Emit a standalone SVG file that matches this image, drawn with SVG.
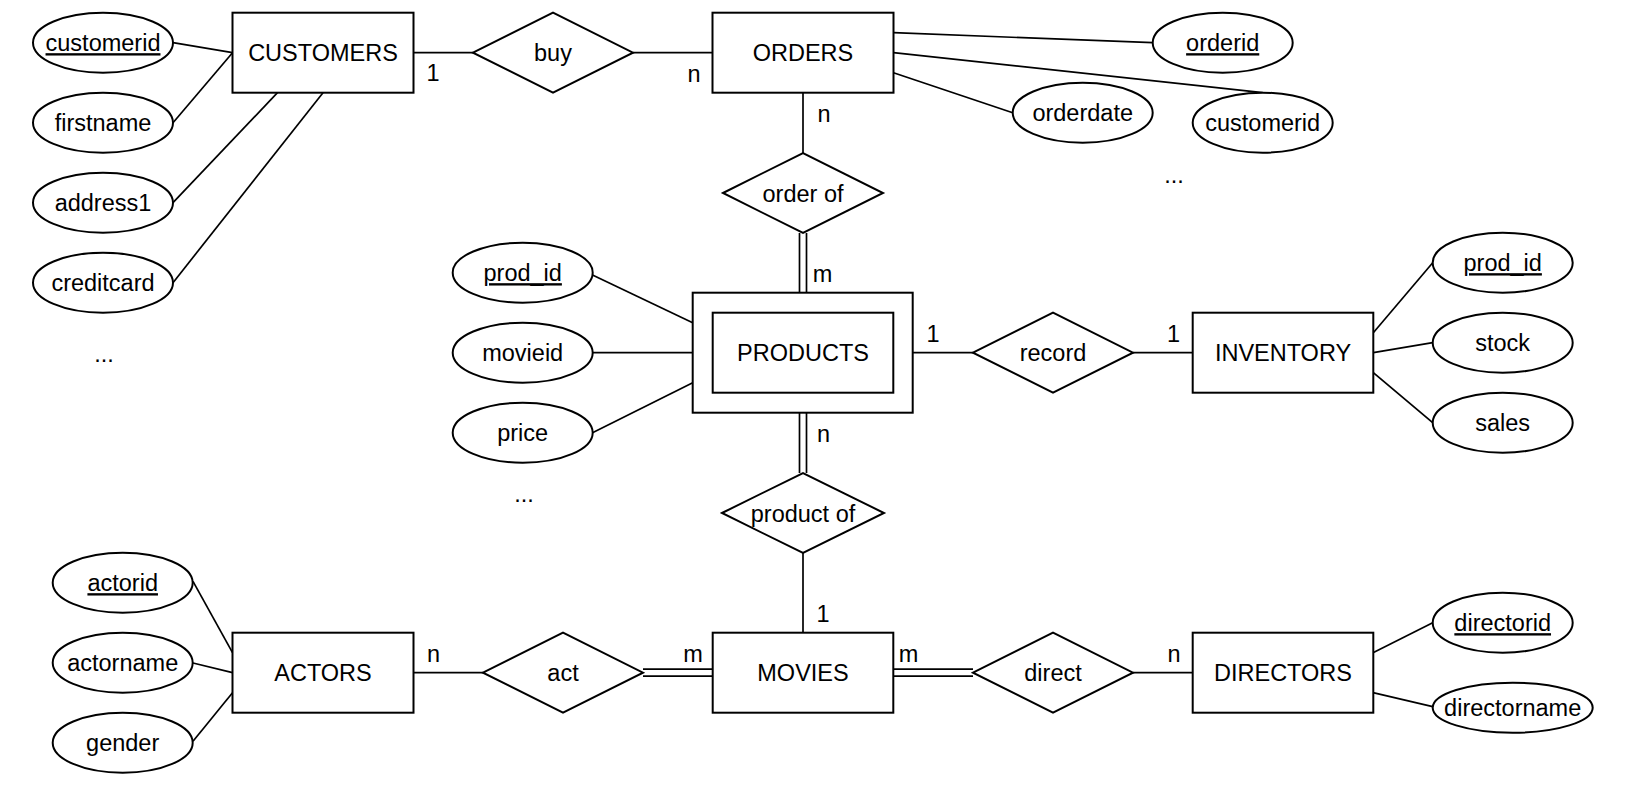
<svg xmlns="http://www.w3.org/2000/svg" width="1628" height="788" viewBox="0 0 1628 788">
<style>
.shape{fill:#fff;stroke:#000;stroke-width:2}
.ln{stroke:#000;stroke-width:1.7;fill:none}
text{font-family:"Liberation Sans",Arial,Helvetica,sans-serif;font-size:23.5px;fill:#000;text-anchor:middle}
.u{text-decoration:underline}
</style>
<rect width="1628" height="788" fill="#fff"/>
<g id="connectors">
<line class="ln" x1="173" y1="42.7" x2="232.5" y2="52.7"/>
<line class="ln" x1="173" y1="122.7" x2="232.5" y2="52.7"/>
<line class="ln" x1="173" y1="202.7" x2="277.5" y2="92.7"/>
<line class="ln" x1="173" y1="282.7" x2="323" y2="92.7"/>
<line class="ln" x1="413.5" y1="52.7" x2="473" y2="52.7"/>
<line class="ln" x1="633" y1="52.7" x2="712.5" y2="52.7"/>
<line class="ln" x1="893.5" y1="32.7" x2="1152.7" y2="42.7"/>
<line class="ln" x1="893.5" y1="52.7" x2="1262.7" y2="92.7"/>
<line class="ln" x1="893.5" y1="72.7" x2="1012.7" y2="112.7"/>
<line class="ln" x1="803" y1="92.7" x2="803" y2="153"/>
<line class="ln" x1="799.5" y1="233" x2="799.5" y2="292.7"/>
<line class="ln" x1="806.5" y1="233" x2="806.5" y2="292.7"/>
<line class="ln" x1="592.5" y1="275" x2="692.7" y2="322.7"/>
<line class="ln" x1="592.7" y1="352.7" x2="692.7" y2="352.7"/>
<line class="ln" x1="592.5" y1="432.7" x2="692.7" y2="382.7"/>
<line class="ln" x1="912.7" y1="352.7" x2="973" y2="352.7"/>
<line class="ln" x1="1133" y1="352.7" x2="1192.7" y2="352.7"/>
<line class="ln" x1="1373.3" y1="332.7" x2="1432.7" y2="262.7"/>
<line class="ln" x1="1373.3" y1="352.7" x2="1432.7" y2="342.7"/>
<line class="ln" x1="1373.3" y1="372.7" x2="1432.7" y2="422.7"/>
<line class="ln" x1="799.5" y1="412.7" x2="799.5" y2="473"/>
<line class="ln" x1="806.5" y1="412.7" x2="806.5" y2="473"/>
<line class="ln" x1="803" y1="553" x2="803" y2="632.7"/>
<line class="ln" x1="413.5" y1="672.7" x2="483" y2="672.7"/>
<line class="ln" x1="643" y1="669.2" x2="712.7" y2="669.2"/>
<line class="ln" x1="643" y1="676.2" x2="712.7" y2="676.2"/>
<line class="ln" x1="893.3" y1="669.2" x2="973" y2="669.2"/>
<line class="ln" x1="893.3" y1="676.2" x2="973" y2="676.2"/>
<line class="ln" x1="1133" y1="672.7" x2="1192.7" y2="672.7"/>
<line class="ln" x1="193" y1="581.3" x2="232.5" y2="652.7"/>
<line class="ln" x1="193" y1="663" x2="232.5" y2="672.7"/>
<line class="ln" x1="193" y1="741.3" x2="232.5" y2="692.7"/>
<line class="ln" x1="1373" y1="652.7" x2="1432.7" y2="622.7"/>
<line class="ln" x1="1373" y1="692.7" x2="1432.7" y2="706.7"/>
</g>
<g id="labels">
<text x="433" y="81">1</text>
<text x="694" y="81.7">n</text>
<text x="824" y="121.7">n</text>
<text x="822.5" y="281.7">m</text>
<text x="933" y="341.7">1</text>
<text x="1173.5" y="341.7">1</text>
<text x="823.5" y="441.7">n</text>
<text x="823" y="621.7">1</text>
<text x="433.5" y="661.7">n</text>
<text x="693" y="661.7">m</text>
<text x="908.5" y="661.7">m</text>
<text x="1174" y="661.7">n</text>
<text x="104" y="362">...</text>
<text x="1174" y="183">...</text>
<text x="524" y="502">...</text>
</g>
<g id="customers"><rect class="shape" x="232.5" y="12.7" width="181" height="80"/><text x="323" y="61.2">CUSTOMERS</text></g>
<g id="orders"><rect class="shape" x="712.5" y="12.7" width="181" height="80"/><text x="803" y="61.2">ORDERS</text></g>
<g id="products"><rect class="shape" x="692.7" y="292.7" width="220" height="120"/><rect class="shape" x="712.7" y="312.7" width="180.6" height="80"/><text x="803" y="361.2">PRODUCTS</text></g>
<g id="inventory"><rect class="shape" x="1192.7" y="312.7" width="180.6" height="80"/><text x="1283" y="361.2">INVENTORY</text></g>
<g id="actors"><rect class="shape" x="232.5" y="632.7" width="181" height="80"/><text x="323" y="681.2">ACTORS</text></g>
<g id="movies"><rect class="shape" x="712.7" y="632.7" width="180.6" height="80"/><text x="803" y="681.2">MOVIES</text></g>
<g id="directors"><rect class="shape" x="1192.7" y="632.7" width="180.6" height="80"/><text x="1283" y="681.2">DIRECTORS</text></g>
<g id="buy"><polygon class="shape" points="473,52.7 553,12.7 633,52.7 553,92.7"/><text x="553" y="61.2">buy</text></g>
<g id="order-of"><polygon class="shape" points="723,193 803,153 883,193 803,233"/><text x="803" y="201.5">order of</text></g>
<g id="record"><polygon class="shape" points="973,352.7 1053,312.7 1133,352.7 1053,392.7"/><text x="1053" y="361.2">record</text></g>
<g id="product-of"><polygon class="shape" points="722,513 803,473 884,513 803,553"/><text x="803" y="521.5">product of</text></g>
<g id="act"><polygon class="shape" points="483,672.7 563,632.7 643,672.7 563,712.7"/><text x="563" y="681.2">act</text></g>
<g id="direct"><polygon class="shape" points="973,672.7 1053,632.7 1133,672.7 1053,712.7"/><text x="1053" y="681.2">direct</text></g>
<g id="attr-customerid"><ellipse class="shape" cx="103" cy="42.7" rx="70" ry="30"/><text class="u" x="103" y="51.2">customerid</text></g>
<g id="attr-firstname"><ellipse class="shape" cx="103" cy="122.7" rx="70" ry="30"/><text x="103" y="131.2">firstname</text></g>
<g id="attr-address1"><ellipse class="shape" cx="103" cy="202.7" rx="70" ry="30"/><text x="103" y="211.2">address1</text></g>
<g id="attr-creditcard"><ellipse class="shape" cx="103" cy="282.7" rx="70" ry="30"/><text x="103" y="291.2">creditcard</text></g>
<g id="attr-orderid"><ellipse class="shape" cx="1222.7" cy="42.7" rx="70" ry="30"/><text class="u" x="1222.7" y="51.2">orderid</text></g>
<g id="attr-orderdate"><ellipse class="shape" cx="1082.7" cy="112.7" rx="70" ry="30"/><text x="1082.7" y="121.2">orderdate</text></g>
<g id="attr-order-customerid"><ellipse class="shape" cx="1262.7" cy="122.7" rx="70" ry="30"/><text x="1262.7" y="131.2">customerid</text></g>
<g id="attr-prod_id"><ellipse class="shape" cx="522.7" cy="272.7" rx="70" ry="30"/><text class="u" x="522.7" y="281.2">prod_id</text></g>
<g id="attr-movieid"><ellipse class="shape" cx="522.7" cy="352.7" rx="70" ry="30"/><text x="522.7" y="361.2">movieid</text></g>
<g id="attr-price"><ellipse class="shape" cx="522.7" cy="432.7" rx="70" ry="30"/><text x="522.7" y="441.2">price</text></g>
<g id="attr-inv-prod_id"><ellipse class="shape" cx="1502.7" cy="262.7" rx="70" ry="30"/><text class="u" x="1502.7" y="271.2">prod_id</text></g>
<g id="attr-stock"><ellipse class="shape" cx="1502.7" cy="342.7" rx="70" ry="30"/><text x="1502.7" y="351.2">stock</text></g>
<g id="attr-sales"><ellipse class="shape" cx="1502.7" cy="422.7" rx="70" ry="30"/><text x="1502.7" y="431.2">sales</text></g>
<g id="attr-actorid"><ellipse class="shape" cx="122.7" cy="582.7" rx="70" ry="30"/><text class="u" x="122.7" y="591.2">actorid</text></g>
<g id="attr-actorname"><ellipse class="shape" cx="122.7" cy="662.7" rx="70" ry="30"/><text x="122.7" y="671.2">actorname</text></g>
<g id="attr-gender"><ellipse class="shape" cx="122.7" cy="742.7" rx="70" ry="30"/><text x="122.7" y="751.2">gender</text></g>
<g id="attr-directorid"><ellipse class="shape" cx="1502.7" cy="622.7" rx="70" ry="30"/><text class="u" x="1502.7" y="631.2">directorid</text></g>
<g id="attr-directorname"><ellipse class="shape" cx="1512.7" cy="707.7" rx="80" ry="25"/><text x="1512.7" y="716.2">directorname</text></g>
</svg>
